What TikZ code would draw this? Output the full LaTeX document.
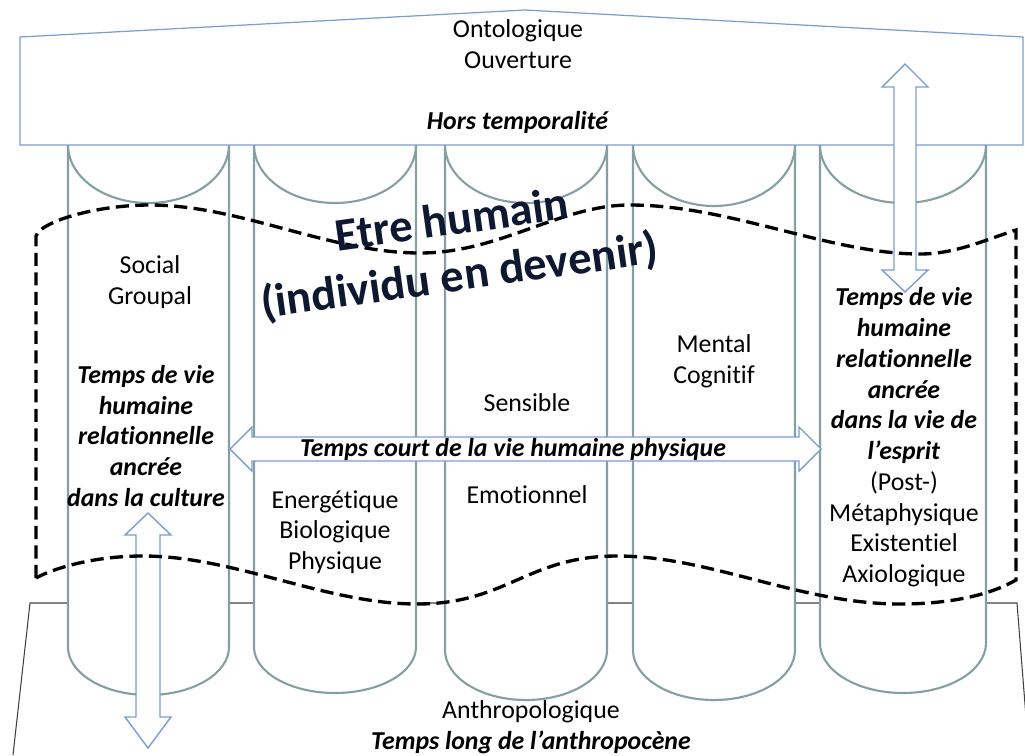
\documentclass[tikz,border=0pt]{standalone}
\usepackage{fontspec}
\setmainfont{Carlito}[Ligatures=NoCommon]
\definecolor{boxblue}{RGB}{124,156,212}
\definecolor{pillargrey}{RGB}{132,160,160}
\definecolor{titlenavy}{RGB}{14,24,48}
\tikzset{
  boxline/.style={draw=boxblue, line width=0.7pt, fill=white},
  pillar/.style={draw=pillargrey, line width=1.2pt},
  plinth/.style={draw=black!75, line width=0.6pt},
  blockarrow/.style={draw=boxblue, line width=0.8pt, fill=white, line join=miter},
  wave/.style={draw=black, line width=1.9pt, dash pattern=on 7.5pt off 3.6pt},
  lbl/.style={align=center, inner sep=0pt, font=\fontsize{14.7}{17.5}\selectfont},
  timelbl/.style={lbl, font=\fontsize{14.7}{17.5}\selectfont\bfseries\itshape},
}
\begin{document}
\begin{tikzpicture}[x=0.02cm,y=-0.02cm]
\useasboundingbox (0,0) rectangle (1025,755);
%
\draw[plinth] (13,755) -- (30,603) -- (1017,603) -- (1029,755);
%
\draw[pillar, fill=white] (68,145) -- (68,647) .. controls (68,673.5) and (104,695) .. (148.5,695) .. controls (193,695) and (229,673.5) .. (229,647) -- (229,145);
\draw[pillar] (68,145) .. controls (68,177) and (104,203) .. (148.5,203) .. controls (193,203) and (229,177) .. (229,145);
%
\draw[pillar, fill=white] (254,145) -- (254,647) .. controls (254,672.4) and (290.3,693) .. (335,693) .. controls (379.7,693) and (416,672.4) .. (416,647) -- (416,145);
\draw[pillar] (254,145) .. controls (254,177) and (290.3,203) .. (335,203) .. controls (379.7,203) and (416,177) .. (416,145);
%
\draw[pillar, fill=white] (445,145) -- (445,650) .. controls (445,677.6) and (481.3,700) .. (526,700) .. controls (570.7,700) and (607,677.6) .. (607,650) -- (607,145);
\draw[pillar] (445,145) .. controls (445,177) and (481.3,203) .. (526,203) .. controls (570.7,203) and (607,177) .. (607,145);
%
\draw[pillar, fill=white] (633,145) -- (633,650) .. controls (633,677.6) and (669.3,700) .. (714,700) .. controls (758.7,700) and (795,677.6) .. (795,650) -- (795,145);
\draw[pillar] (633,145) .. controls (633,178) and (669.3,206) .. (714,206) .. controls (758.7,206) and (795,178) .. (795,145);
%
\draw[pillar, fill=white] (820,145) -- (820,643) .. controls (820,670.6) and (857.2,693) .. (903,693) .. controls (948.8,693) and (986,670.6) .. (986,643) -- (986,145);
\draw[pillar] (820,145) .. controls (820,177) and (857.2,203) .. (903,203) .. controls (948.8,203) and (986,177) .. (986,145);
%
\draw[boxline] (20,145) -- (20,37) -- (525,10) -- (1023,37) -- (1023,145) -- cycle;
%
\draw[blockarrow] (905,64) -- (928,87) -- (916,87) -- (916,270) -- (928,270) -- (905,292) -- (882,270) -- (894,270) -- (894,87) -- (882,87) -- cycle;
\draw[blockarrow] (148,513) -- (171,535) -- (160,535) -- (160,717) -- (171,717) -- (148,748) -- (125,717) -- (136,717) -- (136,535) -- (125,535) -- cycle;
\draw[blockarrow] (230,449) -- (252,427) -- (252,437) -- (799,437) -- (799,427) -- (821,449) -- (799,471) -- (799,461) -- (252,461) -- (252,471) -- cycle;
%
\draw[wave] (36,578) -- (36,236) .. controls (40,222) and (95,205) .. (150,205) .. controls (240,205) and (330,253) .. (420,253) .. controls (500,253) and (560,205) .. (630,205) .. controls (730,205) and (830,254) .. (920,254) .. controls (955,254) and (985,240) .. (1016,230) -- (1016,580) .. controls (990,595) and (950,604) .. (900,604) .. controls (800,604) and (710,556) .. (617,556) .. controls (527,556) and (507,604) .. (417,604) .. controls (326,604) and (234,556) .. (143,556) .. controls (90,556) and (50,570) .. (36,578) -- cycle;
%
\node(onto) at (518,76.5) [lbl] {Ontologique\\Ouverture\\~\\\textbf{\textit{Hors temporalité}}};
\node(titre) at (456,250) [rotate=8, align=center, inner sep=0pt, text=titlenavy, font=\fontsize{26.5}{32}\selectfont\bfseries] {Etre humain\\(individu en devenir)};
%
\node(social) at (150,282) [lbl] {Social\\Groupal};
\node(culture) at (146,436) [timelbl] {Temps de vie\\humaine\\relationnelle\\ancrée\\dans la culture};
%
\node(energ) at (335,532) [lbl] {Energétique\\Biologique\\Physique};
%
\node(sensible) at (527,403) [lbl] {Sensible};
\node(emotion) at (527,495) [lbl] {Emotionnel};
%
\node(mental) at (714,361) [lbl] {Mental\\Cognitif};
%
\node(esprit) at (904,437.5) [lbl] {\textbf{\textit{Temps de vie}}\\\textbf{\textit{humaine}}\\\textbf{\textit{relationnelle}}\\\textbf{\textit{ancrée}}\\\textbf{\textit{dans la vie de}}\\\textbf{\textit{l’esprit}}\\(Post-)\\Métaphysique\\Existentiel\\Axiologique};
%
\node(court) at (513,449) [timelbl] {Temps court de la vie humaine physique};
%
\node(anthropo) at (531,727) [lbl] {Anthropologique\\\textbf{\textit{Temps long de l’anthropocène}}};
\end{tikzpicture}
\end{document}
